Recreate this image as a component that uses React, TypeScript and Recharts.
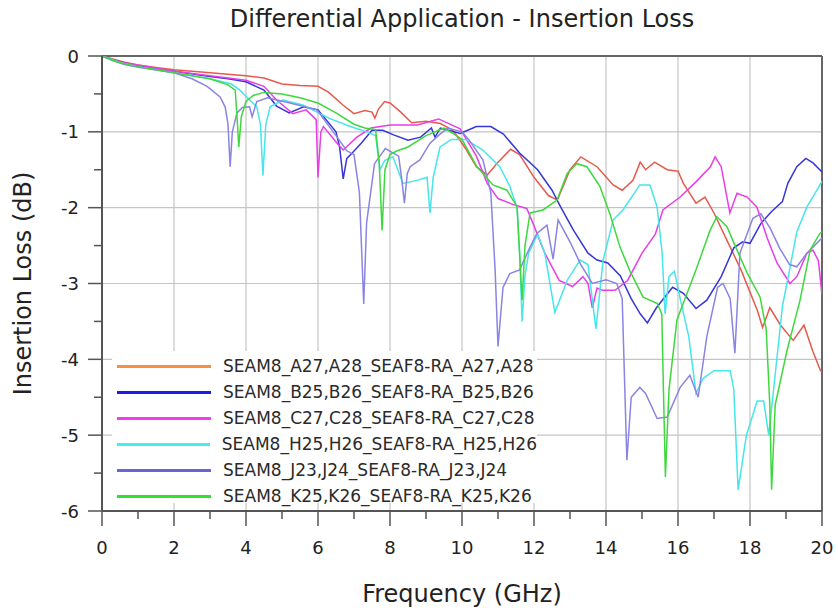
import React from 'react';
import { LineChart, Line, XAxis, YAxis, ReferenceLine, Legend } from 'recharts';

const FONT = '"DejaVu Sans", Verdana, sans-serif';

const TITLE = 'Differential Application - Insertion Loss';
const X_LABEL = 'Frequency (GHz)';
const Y_LABEL = 'Insertion Loss (dB)';

const X_TICKS = [0, 1, 2, 3, 4, 5, 6, 7, 8, 9, 10, 11, 12, 13, 14, 15, 16, 17, 18, 19, 20];
const Y_TICKS = [0, -0.5, -1, -1.5, -2, -2.5, -3, -3.5, -4, -4.5, -5, -5.5, -6];
const X_GRID = [2, 4, 6, 8, 10, 12, 14, 16, 18];
const Y_GRID = [-1, -2, -3, -4, -5];

const A27 = [[0,0],[0.3,-0.04],[0.6,-0.08],[1,-0.12],[1.5,-0.15],[2,-0.18],[2.5,-0.2],[3,-0.22],[3.5,-0.24],[4,-0.26],[4.5,-0.29],[5,-0.37],[5.5,-0.39],[6,-0.4],[6.3,-0.48],[6.7,-0.65],[7,-0.76],[7.3,-0.72],[7.5,-0.74],[7.58,-0.82],[7.68,-0.7],[7.85,-0.6],[8.0,-0.62],[8.3,-0.74],[8.6,-0.88],[9.0,-0.86],[9.4,-0.89],[9.75,-0.98],[10.1,-1.22],[10.4,-1.46],[10.7,-1.57],[11.0,-1.4],[11.35,-1.23],[11.6,-1.3],[12.0,-1.6],[12.4,-1.84],[12.65,-1.9],[13.0,-1.5],[13.3,-1.33],[13.75,-1.46],[14.2,-1.7],[14.45,-1.77],[14.75,-1.64],[14.95,-1.4],[15.1,-1.5],[15.35,-1.4],[15.7,-1.5],[16.0,-1.52],[16.15,-1.68],[16.5,-1.94],[16.75,-1.86],[17.0,-2.07],[17.4,-2.47],[17.75,-2.82],[18.2,-3.35],[18.35,-3.58],[18.55,-3.32],[18.85,-3.55],[19.2,-3.75],[19.5,-3.55],[19.75,-3.9],[19.95,-4.14],[20,-4.17]];

const B25 = [[0,0],[0.3,-0.05],[0.6,-0.09],[1,-0.13],[1.5,-0.17],[2,-0.2],[3,-0.27],[3.5,-0.3],[4,-0.34],[4.5,-0.45],[4.85,-0.66],[5.2,-0.75],[5.6,-0.67],[6.0,-0.71],[6.5,-1.0],[6.6,-1.2],[6.7,-1.62],[6.8,-1.35],[6.95,-1.28],[7.2,-1.15],[7.5,-0.98],[7.8,-0.98],[8.1,-1.04],[8.5,-1.11],[8.85,-1.07],[9.15,-0.95],[9.25,-1.07],[9.4,-0.95],[9.95,-1.02],[10.4,-0.93],[10.8,-0.93],[11.15,-1.03],[11.6,-1.28],[12.1,-1.5],[12.5,-1.77],[12.75,-2.0],[13.1,-2.3],[13.5,-2.6],[13.75,-2.69],[14.05,-2.73],[14.4,-2.9],[14.7,-3.2],[14.95,-3.4],[15.15,-3.52],[15.4,-3.32],[15.85,-3.05],[16.15,-3.13],[16.5,-3.33],[16.8,-3.22],[17.2,-2.91],[17.55,-2.53],[17.8,-2.45],[18.0,-2.47],[18.3,-2.21],[18.6,-2.05],[18.9,-1.92],[19.05,-1.68],[19.3,-1.46],[19.55,-1.35],[19.75,-1.41],[20,-1.53]];

const C27 = [[0,0],[0.3,-0.05],[0.6,-0.09],[1,-0.12],[2,-0.2],[3,-0.26],[4,-0.32],[4.5,-0.4],[4.85,-0.58],[5.3,-0.76],[5.67,-0.71],[5.95,-0.84],[6.0,-1.6],[6.08,-1.0],[6.15,-0.93],[6.53,-1.15],[6.7,-1.24],[7.08,-1.07],[7.47,-0.95],[8.0,-0.91],[8.76,-0.91],[9.35,-0.83],[9.95,-0.96],[10.4,-1.32],[10.7,-1.68],[11.0,-1.88],[11.43,-1.96],[11.8,-2.01],[12.0,-2.24],[12.3,-2.6],[12.7,-2.96],[13.07,-3.04],[13.36,-2.91],[13.5,-3.0],[13.62,-3.32],[13.75,-3.06],[13.9,-3.09],[14.25,-3.09],[14.6,-2.96],[15.0,-2.6],[15.37,-2.35],[15.58,-2.03],[16.06,-1.86],[16.5,-1.66],[16.9,-1.46],[17.03,-1.33],[17.2,-1.46],[17.44,-2.07],[17.64,-1.81],[17.92,-1.86],[18.19,-1.99],[18.47,-2.39],[18.75,-2.73],[19.11,-3.0],[19.3,-2.91],[19.58,-2.6],[19.75,-2.56],[19.9,-2.7],[20,-3.15]];

const H25 = [[0,0],[0.3,-0.05],[0.6,-0.1],[1,-0.14],[2,-0.22],[3,-0.3],[3.6,-0.37],[3.83,-0.45],[4.1,-0.58],[4.3,-0.67],[4.4,-0.9],[4.47,-1.58],[4.55,-0.9],[4.67,-0.67],[5.03,-0.58],[5.6,-0.65],[6.3,-0.82],[6.9,-0.93],[7.35,-1.0],[7.6,-1.05],[7.72,-1.5],[7.85,-1.38],[8.08,-1.33],[8.36,-1.68],[8.75,-1.64],[9.03,-1.6],[9.11,-2.07],[9.2,-1.6],[9.39,-1.2],[9.7,-1.1],[10.1,-1.1],[10.58,-1.24],[11.05,-1.46],[11.33,-1.72],[11.53,-2.0],[11.6,-2.6],[11.67,-3.5],[11.75,-2.9],[11.85,-2.6],[12.1,-2.35],[12.3,-2.6],[12.58,-3.38],[12.92,-2.96],[13.28,-2.69],[13.5,-2.75],[13.72,-3.6],[13.92,-2.69],[14.2,-2.16],[14.47,-2.03],[14.94,-1.7],[15.22,-1.7],[15.42,-1.99],[15.56,-2.6],[15.64,-3.4],[15.75,-2.91],[15.9,-2.84],[16.06,-3.2],[16.3,-3.7],[16.5,-4.45],[16.7,-4.25],[17.0,-4.15],[17.45,-4.15],[17.55,-4.4],[17.67,-5.72],[17.9,-5.0],[18.2,-4.55],[18.38,-4.55],[18.52,-5.0],[18.7,-4.2],[18.9,-3.3],[19.1,-2.82],[19.3,-2.32],[19.58,-1.99],[19.86,-1.77],[20,-1.65]];

const J23 = [[0,0],[0.3,-0.06],[0.6,-0.11],[1,-0.15],[2,-0.22],[2.5,-0.3],[2.92,-0.4],[3.28,-0.54],[3.42,-0.67],[3.5,-0.9],[3.56,-1.46],[3.62,-1.0],[3.75,-0.75],[3.9,-0.68],[4.1,-0.67],[4.17,-0.8],[4.3,-0.6],[4.6,-0.55],[5.22,-0.62],[5.97,-0.71],[6.53,-1.07],[6.8,-1.25],[7.0,-1.3],[7.15,-1.8],[7.27,-3.27],[7.35,-2.2],[7.57,-1.42],[7.87,-1.22],[8.24,-1.32],[8.32,-1.6],[8.4,-1.94],[8.48,-1.55],[8.56,-1.46],[8.83,-1.37],[9.11,-1.15],[9.39,-1.03],[9.6,-0.95],[10.0,-1.0],[10.2,-1.11],[10.58,-1.37],[10.8,-1.8],[10.92,-2.82],[11.0,-3.83],[11.14,-3.05],[11.33,-2.87],[11.6,-2.82],[11.89,-2.52],[12.08,-2.34],[12.36,-2.23],[12.53,-2.68],[12.67,-2.16],[13.0,-2.45],[13.3,-2.75],[13.62,-3.0],[14.0,-2.95],[14.3,-3.0],[14.45,-3.2],[14.58,-5.33],[14.7,-4.5],[14.94,-4.37],[15.1,-4.45],[15.42,-4.78],[15.7,-4.76],[16.06,-4.37],[16.33,-4.21],[16.56,-4.5],[16.8,-3.7],[17.1,-3.05],[17.25,-3.0],[17.45,-3.2],[17.58,-3.92],[17.72,-2.6],[18.08,-2.14],[18.3,-2.08],[18.56,-2.27],[18.83,-2.54],[19.1,-2.75],[19.3,-2.78],[19.58,-2.6],[19.75,-2.52],[20,-2.4]];

const K25 = [[0,0],[0.3,-0.06],[0.6,-0.1],[1,-0.14],[2,-0.22],[3,-0.3],[3.5,-0.38],[3.7,-0.45],[3.75,-0.8],[3.8,-1.2],[3.87,-0.8],[4.0,-0.6],[4.2,-0.52],[4.5,-0.48],[5,-0.5],[5.5,-0.55],[6,-0.62],[6.5,-0.75],[7,-0.9],[7.3,-0.95],[7.6,-0.97],[7.7,-1.4],[7.78,-2.3],[7.86,-1.5],[8.0,-1.3],[8.2,-1.25],[8.5,-1.2],[9.0,-1.05],[9.5,-0.95],[9.75,-1.02],[10.0,-1.1],[10.4,-1.45],[10.86,-1.7],[11.25,-1.77],[11.53,-1.99],[11.6,-2.6],[11.67,-3.22],[11.75,-2.5],[11.89,-2.07],[12.25,-2.03],[12.64,-1.9],[12.92,-1.55],[13.19,-1.42],[13.47,-1.46],[13.83,-1.72],[14.1,-2.07],[14.39,-2.52],[14.67,-2.84],[15.03,-3.18],[15.42,-3.26],[15.55,-3.4],[15.6,-4.5],[15.65,-5.55],[15.75,-4.4],[15.97,-3.48],[16.5,-2.82],[16.89,-2.3],[17.08,-2.12],[17.36,-2.25],[17.64,-2.56],[17.92,-2.86],[18.28,-3.18],[18.45,-3.6],[18.55,-4.6],[18.6,-5.72],[18.7,-4.6],[19.03,-3.88],[19.39,-3.22],[19.67,-2.56],[19.94,-2.34],[20,-2.32]];

const SERIES_NAMES = [
  'SEAM8_A27,A28_SEAF8-RA_A27,A28',
  'SEAM8_B25,B26_SEAF8-RA_B25,B26',
  'SEAM8_C27,C28_SEAF8-RA_C27,C28',
  'SEAM8_H25,H26_SEAF8-RA_H25,H26',
  'SEAM8_J23,J24_SEAF8-RA_J23,J24',
  'SEAM8_K25,K26_SEAF8-RA_K25,K26',
];
const SERIES_VALUES = [A27, B25, C27, H25, J23, K25];
const LINE_COLORS = ['#e65a4c', '#3636d6', '#e83ee6', '#46e6ea', '#8a84e2', '#3ed83e'];
const LEGEND_COLORS = ['#f7913f', '#1c1ce6', '#f23cf0', '#3cf2f4', '#6a64d4', '#32e032'];

const toRows = (pairs: number[][]) => pairs.map(([f, v]) => ({ f, v }));

const XTick = (props: any) => {
  const { x, y, payload } = props;
  const major = payload.value % 2 === 0;
  return (
    <g>
      <line x1={x} x2={x} y1={y} y2={y + (major ? 15 : 8)} stroke="#555" strokeWidth={1.5} />
      {major && (
        <text x={x} y={y + 43} textAnchor="middle" fontSize={18} fill="#222" fontFamily={FONT}>
          {payload.value}
        </text>
      )}
    </g>
  );
};

const YTick = (props: any) => {
  const { x, y, payload } = props;
  const major = Number.isInteger(payload.value);
  return (
    <g>
      <line x1={x - (major ? 14 : 8)} x2={x} y1={y} y2={y} stroke="#555" strokeWidth={1.5} />
      {major && (
        <text x={x - 23} y={y + 6.5} textAnchor="end" fontSize={18} fill="#222" fontFamily={FONT}>
          {payload.value}
        </text>
      )}
    </g>
  );
};

const XLabel = (props: any) => {
  const { x, y, width } = props.viewBox;
  return (
    <text x={x + width / 2} y={y + 91} textAnchor="middle" fontSize={24} fill="#222" fontFamily={FONT}>
      {X_LABEL}
    </text>
  );
};

const YLabel = (props: any) => {
  const { x, y, height } = props.viewBox;
  const cx = x - 11;
  const cy = y + height / 2;
  return (
    <text x={cx} y={cy} transform={`rotate(-90, ${cx}, ${cy})`} textAnchor="middle" fontSize={24} fill="#222" fontFamily={FONT}>
      {Y_LABEL}
    </text>
  );
};

const LegendBox = () => (
  <div style={{ background: '#fff', width: 425, height: 152, paddingTop: 2, boxSizing: 'border-box', fontFamily: FONT }}>
    {SERIES_NAMES.map((name, i) => (
      <div key={name} style={{ display: 'flex', alignItems: 'center', height: 26 }}>
        <div style={{ marginLeft: 5, width: 94, height: 3, background: LEGEND_COLORS[i] }} />
        <span style={{ marginLeft: 12, fontSize: 17, color: '#2a2a2a', lineHeight: '26px', whiteSpace: 'nowrap' }}>{name}</span>
      </div>
    ))}
  </div>
);

export default function App() {
  return (
    <div style={{ position: 'absolute', left: 0, top: 0, width: 838, height: 611, background: '#fff' }}>
      <div
        style={{
          position: 'absolute', left: 102, top: 5, width: 720, textAlign: 'center',
          fontFamily: FONT, fontSize: 24, lineHeight: '28px', color: '#222', whiteSpace: 'nowrap',
        }}
      >
        {TITLE}
      </div>
      <LineChart width={838} height={611} margin={{ top: 56, right: 16, bottom: 0, left: 42 }}>
        <XAxis
          dataKey="f"
          type="number"
          domain={[0, 20]}
          ticks={X_TICKS}
          interval={0}
          allowDataOverflow
          height={100}
          tickSize={0}
          tickMargin={0}
          tick={<XTick />}
          axisLine={{ stroke: '#555', strokeWidth: 2 }}
          label={<XLabel />}
        />
        <YAxis
          type="number"
          domain={[-6, 0]}
          ticks={Y_TICKS}
          interval={0}
          allowDataOverflow
          width={60}
          tickSize={0}
          tickMargin={0}
          tick={<YTick />}
          axisLine={{ stroke: '#555', strokeWidth: 2 }}
          label={<YLabel />}
        />
        {X_GRID.map((g) => (
          <ReferenceLine key={'gx' + g} x={g} stroke="#c4c4c4" strokeWidth={1.2} />
        ))}
        {Y_GRID.map((g) => (
          <ReferenceLine key={'gy' + g} y={g} stroke="#c4c4c4" strokeWidth={1.2} />
        ))}
        <ReferenceLine y={0} stroke="#666" strokeWidth={2} />
        <ReferenceLine x={20} stroke="#666" strokeWidth={2} />
        {SERIES_VALUES.map((vals, i) => (
          <Line
            key={SERIES_NAMES[i]}
            data={toRows(vals)}
            dataKey="v"
            type="linear"
            dot={false}
            stroke={LINE_COLORS[i]}
            strokeWidth={1.5}
            isAnimationActive={false}
            name={SERIES_NAMES[i]}
          />
        ))}
        <Legend
          layout="vertical"
          align="center"
          verticalAlign="middle"
          wrapperStyle={{ left: 112, top: 351, width: 425, height: 152 }}
          content={() => <LegendBox />}
        />
      </LineChart>
    </div>
  );
}
